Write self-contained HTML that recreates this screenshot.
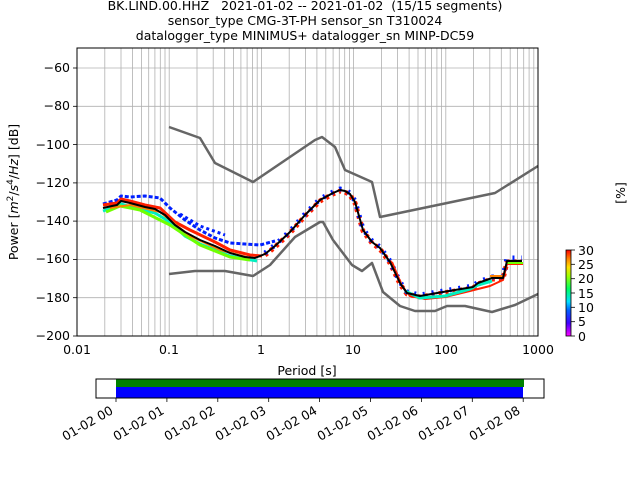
<!DOCTYPE html>
<html><head><style>body{margin:0;background:#fff}svg{display:block}text{font-family:"DejaVu Sans","Liberation Sans",sans-serif;fill:#000}</style></head><body>
<svg width="640" height="480" viewBox="0 0 640 480">
<defs><linearGradient id="cb" x1="0" y1="1" x2="0" y2="0">
<stop offset="0" stop-color="#ff00ff"/><stop offset="0.15" stop-color="#4000ff"/><stop offset="0.3" stop-color="#0060ff"/><stop offset="0.4" stop-color="#00e0ff"/><stop offset="0.55" stop-color="#00ff60"/><stop offset="0.7" stop-color="#a0ff00"/><stop offset="0.8" stop-color="#ffe000"/><stop offset="0.9" stop-color="#ff8000"/><stop offset="1" stop-color="#ff0000"/></linearGradient></defs>
<g font-size="12.5" text-anchor="middle">
<text x="305" y="10">BK.LIND.00.HHZ&#160;&#160;&#160;2021-01-02 -- 2021-01-02&#160;&#160;(15/15 segments)</text>
<text x="305" y="25">sensor_type CMG-3T-PH sensor_sn T310024</text>
<text x="305" y="40">datalogger_type MINIMUS+ datalogger_sn MINP-DC59</text>
</g>
<g stroke="#b0b0b0" stroke-width="0.8">
<path d="M77 48V336M104.8 48V336M121 48V336M132.5 48V336M141.4 48V336M148.7 48V336M154.9 48V336M160.3 48V336M165 48V336M169.2 48V336M197 48V336M213.2 48V336M224.7 48V336M233.6 48V336M240.9 48V336M247.1 48V336M252.5 48V336M257.2 48V336M261.4 48V336M289.2 48V336M305.4 48V336M316.9 48V336M325.8 48V336M333.1 48V336M339.3 48V336M344.7 48V336M349.4 48V336M353.6 48V336M381.4 48V336M397.6 48V336M409.1 48V336M418 48V336M425.3 48V336M431.5 48V336M436.9 48V336M441.6 48V336M445.8 48V336M473.6 48V336M489.8 48V336M501.3 48V336M510.2 48V336M517.5 48V336M523.7 48V336M529.1 48V336M533.8 48V336M538 48V336"/>
<line x1="77" x2="538" y1="68" y2="68"/><line x1="77" x2="538" y1="106.3" y2="106.3"/><line x1="77" x2="538" y1="144.6" y2="144.6"/><line x1="77" x2="538" y1="182.9" y2="182.9"/><line x1="77" x2="538" y1="221.1" y2="221.1"/><line x1="77" x2="538" y1="259.4" y2="259.4"/><line x1="77" x2="538" y1="297.7" y2="297.7"/>
</g>
<g fill="none" stroke-linejoin="round">
<polyline stroke="#0020ff" stroke-width="3" stroke-dasharray="4 2" points="103,204 117,200 121,196 130,197 145,196 160,198 170,208 185,220 200,230 215,238 230,243 245,244 260,245 275,241"/>
<polyline stroke="#0020ff" stroke-width="3" stroke-dasharray="3 3" points="180,214 200,226 225,235"/>
<polyline stroke="#00f0c0" stroke-width="3" points="103,211 112,208 121,204 135,208 155,213 170,222 185,236 200,244 215,250 230,256 245,259 257,261"/>
<polyline stroke="#ff2000" stroke-width="3" points="103,205 117,203 121,199 130,201 145,205 160,208 175,222 190,230 215,242 230,250 250,255 262,256"/>
<polyline stroke="#70ff00" stroke-width="3" points="106,212 120,206 140,210 170,225 200,245 230,257 250,260"/>
<polyline stroke="#ff8000" stroke-width="2" points="110,208 130,205 160,212 190,236 220,250 250,258"/>
<polyline stroke="#ff2000" stroke-width="5" stroke-dasharray="3 4" points="265,255 275,247 290,233 305,216 320,201 333,194 340,191 345,192 350,195 355,203 363,231 372,243 380,249 390,263 400,284 407,294 420,297 443,293 473,288 478,284 492,279 503,279 507,262 522,262"/>
<polyline stroke="#0020ff" stroke-width="5" stroke-dasharray="2 7" points="265,253 275,245 290,231 305,214 320,199 333,192 340,189 345,190 350,193 355,201 363,229 372,241 380,247 390,261 400,282 407,292 420,295 443,291 473,286 478,282 492,277 503,277 507,258 522,258"/>
<polyline stroke="#ff2000" stroke-width="2" points="392,262 402,286 410,296 425,299 445,297 470,291 490,286 503,280 507,264 523,264"/>
<polyline stroke="#00f0c0" stroke-width="3" points="405,291 420,298 445,296 470,289 478,285 492,281"/>
<polyline stroke="#ff8000" stroke-width="2" points="490,276 503,276"/>
<polyline stroke="#70ff00" stroke-width="2" points="507,263 523,263"/>
<polyline stroke="#000" stroke-width="2" points="103,208 112,206 117,205 121,201 130,203 145,207 155,209 165,215 175,225 185,232 200,240 215,246 230,253 245,257 255,258 265,254 275,246 290,232 305,215 320,200 333,193 340,190 345,191 350,194 355,202 363,230 372,242 380,248 390,262 400,283 407,293 420,296 443,292 473,287 478,283 492,278 503,278 507,261 522,261"/>
<polyline stroke="#666" stroke-width="2.5" points="169,127 200,138 215,163 253,182 315,140 322,137 335,147 345,170 372,182 380,217 495,193 538,166"/>
<polyline stroke="#666" stroke-width="2.5" points="169,274 195,271 225,271 253,276 270,265 295,237 320,222 323,222 333,240 352,265 362,271 372,263 383,292 400,306 415,311 435,311 447,306 465,306 492,312 515,305 538,294"/>
</g>
<rect x="77" y="48" width="461" height="288" fill="none" stroke="#000" stroke-width="1"/>
<g stroke="#000" stroke-width="0.8">
<line x1="73" x2="77" y1="68" y2="68"/><line x1="73" x2="77" y1="106.3" y2="106.3"/><line x1="73" x2="77" y1="144.6" y2="144.6"/><line x1="73" x2="77" y1="182.9" y2="182.9"/><line x1="73" x2="77" y1="221.1" y2="221.1"/><line x1="73" x2="77" y1="259.4" y2="259.4"/><line x1="73" x2="77" y1="297.7" y2="297.7"/><line x1="73" x2="77" y1="336" y2="336"/>
</g>
<g font-size="12.5" text-anchor="end">
<text x="70" y="72">−60</text><text x="70" y="110">−80</text><text x="70" y="149">−100</text><text x="70" y="187">−120</text><text x="70" y="225">−140</text><text x="70" y="263">−160</text><text x="70" y="302">−180</text><text x="70" y="340">−200</text>
</g>
<g font-size="12.5" text-anchor="middle">
<text x="77" y="354">0.01</text><text x="169" y="354">0.1</text><text x="261" y="354">1</text><text x="353" y="354">10</text><text x="446" y="354">100</text><text x="538" y="354">1000</text>
<text x="307" y="375">Period [s]</text>
</g>
<text font-size="12.5" transform="translate(18,192) rotate(-90)" text-anchor="middle">Power [<tspan font-style="italic">m</tspan><tspan font-size="9" dy="-5">2</tspan><tspan dy="5">/</tspan><tspan font-style="italic">s</tspan><tspan font-size="9" dy="-5">4</tspan><tspan dy="5">/</tspan><tspan font-style="italic">Hz</tspan>] [dB]</text>
<text font-size="12.5" transform="translate(625,193) rotate(-90)" text-anchor="middle">[%]</text>
<rect x="566" y="250" width="5" height="86" fill="url(#cb)" stroke="#000" stroke-width="0.8"/>
<g stroke="#000" stroke-width="0.8">
<line x1="571" x2="575" y1="250" y2="250"/><line x1="571" x2="575" y1="264.3" y2="264.3"/><line x1="571" x2="575" y1="278.7" y2="278.7"/><line x1="571" x2="575" y1="293" y2="293"/><line x1="571" x2="575" y1="307.3" y2="307.3"/><line x1="571" x2="575" y1="321.7" y2="321.7"/><line x1="571" x2="575" y1="336" y2="336"/>
</g>
<g font-size="12.5">
<text x="578" y="255">30</text><text x="578" y="269">25</text><text x="578" y="283">20</text><text x="578" y="298">15</text><text x="578" y="312">10</text><text x="578" y="326">5</text><text x="578" y="341">0</text>
</g>
<rect x="116" y="379" width="408" height="8" fill="#008000"/>
<rect x="116" y="387" width="407" height="11" fill="#0000ff"/>
<rect x="96" y="379" width="448" height="19" fill="none" stroke="#000" stroke-width="1"/>
<g stroke="#000" stroke-width="0.8">
<line x1="116" x2="116" y1="398" y2="402"/><line x1="166.9" x2="166.9" y1="398" y2="402"/><line x1="217.8" x2="217.8" y1="398" y2="402"/><line x1="268.7" x2="268.7" y1="398" y2="402"/><line x1="319.6" x2="319.6" y1="398" y2="402"/><line x1="370.5" x2="370.5" y1="398" y2="402"/><line x1="421.4" x2="421.4" y1="398" y2="402"/><line x1="472.3" x2="472.3" y1="398" y2="402"/><line x1="523.2" x2="523.2" y1="398" y2="402"/>
</g>
<g font-size="12.5" text-anchor="end">
<text transform="translate(114,413) rotate(-30)">01-02 00</text>
<text transform="translate(165,413) rotate(-30)">01-02 01</text>
<text transform="translate(216,413) rotate(-30)">01-02 02</text>
<text transform="translate(267,413) rotate(-30)">01-02 03</text>
<text transform="translate(318,413) rotate(-30)">01-02 04</text>
<text transform="translate(369,413) rotate(-30)">01-02 05</text>
<text transform="translate(419,413) rotate(-30)">01-02 06</text>
<text transform="translate(470,413) rotate(-30)">01-02 07</text>
<text transform="translate(521,413) rotate(-30)">01-02 08</text>
</g>
</svg>
</body></html>
